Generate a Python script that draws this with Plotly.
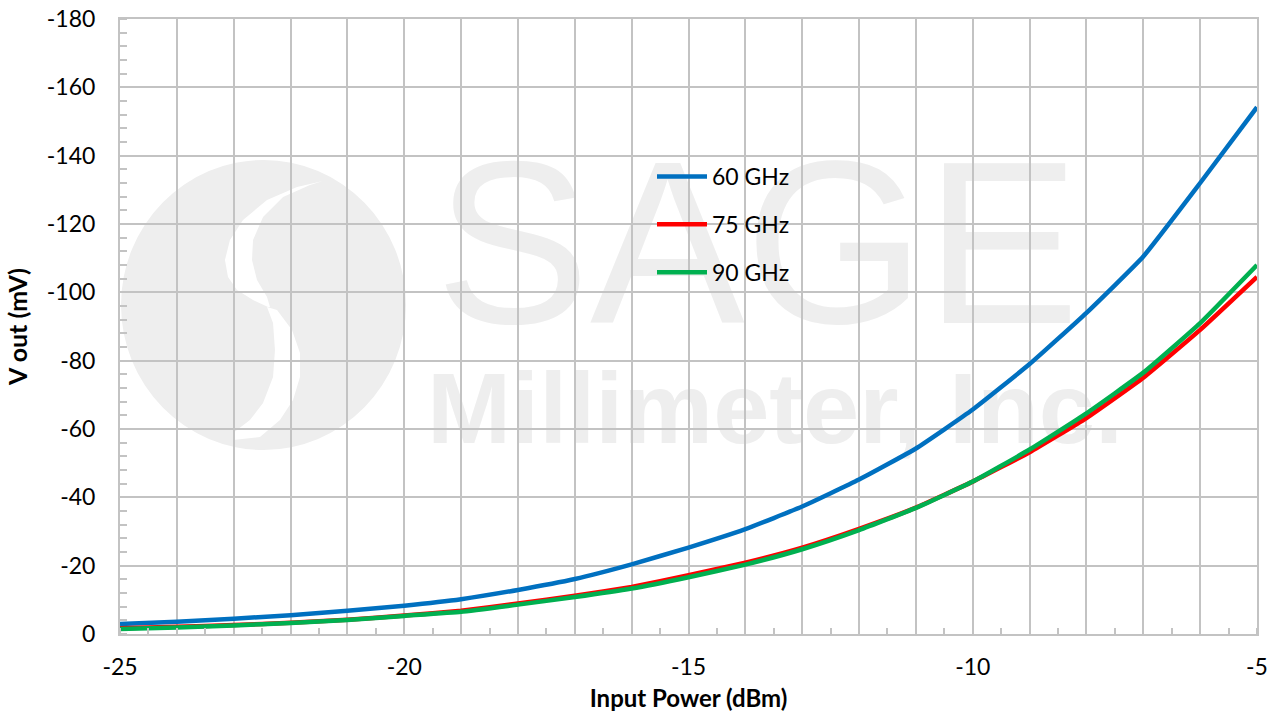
import plotly.graph_objects as go

# ---- data ----
input_power = [-25, -24, -23, -22, -21, -20, -19, -18, -17, -16, -15,
               -14, -13, -12, -11, -10, -9, -8, -7, -6, -5]
v60 = [-2.9, -3.6, -4.5, -5.5, -6.8, -8.3, -10.2, -12.9, -16.1, -20.4, -25.3,
       -30.7, -37.3, -45.2, -54.3, -65.7, -79.0, -94.0, -110.5, -132.0, -154.2]
v75 = [-1.7, -2.1, -2.6, -3.3, -4.2, -5.4, -6.8, -8.9, -11.2, -13.8, -17.2,
       -20.9, -25.3, -30.8, -37.0, -44.6, -53.2, -63.2, -75.0, -89.0, -104.5]
v90 = [-1.5, -1.9, -2.5, -3.2, -4.1, -5.3, -6.5, -8.6, -10.8, -13.3, -16.6,
       -20.3, -24.8, -30.4, -36.9, -44.6, -54.0, -64.6, -76.5, -91.0, -108.0]
series_names = ["60 GHz", "75 GHz", "90 GHz"]
series_colors = ["#0070C0", "#FF0000", "#00B050"]

x_tick_vals = list(range(-25, -4))
x_tick_text = [str(v) if v % 5 == 0 else "" for v in x_tick_vals]
y_tick_vals = [0, -20, -40, -60, -80, -100, -120, -140, -160, -180]
y_tick_text = ["0", "-20", "-40", "-60", "-80", "-100", "-120", "-140", "-160", "-180"]

W, H = 1278, 712
# plot area in window pixels
PL, PR, PT, PB = 120, 1257, 19, 634
ML, MR, MT, MB = PL, W - PR, PT, H - PB
PW, PH = PR - PL, PB - PT


def px(x):
    return (x - PL) / PW


def py(y):
    return (PB - y) / PH


def path(points):
    s = "M{:.4f},{:.4f}".format(px(points[0][0]), py(points[0][1]))
    for (a, b) in points[1:]:
        s += " L{:.4f},{:.4f}".format(px(a), py(b))
    return s + " Z"


fig = go.Figure()
for name, col, vals in zip(series_names, series_colors, [v60, v75, v90]):
    fig.add_trace(go.Scatter(x=input_power, y=vals, mode="lines", name=name,
                             legendgroup=name,
                             line=dict(color=col, width=4.5, shape="spline", smoothing=0.4)))

wm = "#eeeeee"
upper_outer = [(323, 181), (297, 187), (267, 200), (243, 220), (230, 240), (225, 260),
               (228, 277), (237, 290), (253, 300), (268, 307)]
upper_inner = [(270, 307), (267, 297), (257, 280), (252, 260), (253, 240), (263, 217),
               (283, 197), (310, 185)]
lower_left = [(267, 307), (273, 323), (275, 350), (273, 377), (263, 403), (250, 420),
              (233, 433), (233, 440)]
lower_right = [(260, 437), (280, 420), (293, 400), (300, 377), (300, 353), (292, 330),
               (277, 310)]

shapes = [
    dict(type="circle", xref="paper", yref="paper", layer="below",
         x0=px(121), x1=px(406), y0=py(160), y1=py(450),
         fillcolor=wm, line=dict(width=0)),
    dict(type="path", xref="paper", yref="paper", layer="below",
         path=path(upper_outer + upper_inner), fillcolor="white", line=dict(width=0)),
    dict(type="path", xref="paper", yref="paper", layer="below",
         path=path(lower_left + lower_right), fillcolor="white", line=dict(width=0)),
    dict(type="rect", xref="paper", yref="paper", layer="below",
         x0=px(430), x1=px(1085), y0=py(100), y1=py(340),
         fillcolor="rgba(0,0,0,0)", line=dict(width=0),
         label=dict(text="SAGE", textposition="middle center",
                    font=dict(family="Liberation Sans", size=232, color=wm))),
    dict(type="rect", xref="paper", yref="paper", layer="below",
         x0=px(425), x1=px(1125), y0=py(348), y1=py(448),
         fillcolor="rgba(0,0,0,0)", line=dict(width=0),
         label=dict(text="Millimeter, Inc.", textposition="middle center",
                    font=dict(family="Liberation Sans", size=101, color=wm, weight="bold"))),
]

grid = "#c3c3c3"
fig.update_layout(
    width=W, height=H,
    margin=dict(l=ML, r=MR, t=MT, b=MB, autoexpand=False),
    paper_bgcolor="white", plot_bgcolor="rgba(0,0,0,0)",
    font=dict(family="Lato", size=23, color="black"),
    shapes=shapes,
    showlegend=True,
    legend=dict(x=px(652), y=py(155), xanchor="left", yanchor="top",
                bgcolor="rgba(0,0,0,0)", font=dict(family="Lato", size=23),
                tracegroupgap=15, itemwidth=50),
    xaxis=dict(range=[-25, -5], tickvals=x_tick_vals, ticktext=x_tick_text,
               automargin=False, ticklabeloverflow="allow",
               showgrid=True, gridcolor=grid, gridwidth=2,
               showline=True, linecolor=grid, linewidth=2, mirror=True,
               ticks="", zeroline=False, ticklabelstandoff=11,
               minor=dict(dtick=0.5, ticks="inside", ticklen=6, tickcolor=grid,
                          tickwidth=2, showgrid=False),
               title=dict(text="<b>Input Power (dBm)</b>", font=dict(size=24), standoff=13)),
    yaxis=dict(range=[0, -180], tickvals=y_tick_vals, ticktext=y_tick_text,
               automargin=False, ticklabeloverflow="allow",
               showgrid=True, gridcolor=grid, gridwidth=2,
               showline=True, linecolor=grid, linewidth=2, mirror=True,
               ticks="", zeroline=False, ticklabelstandoff=18,
               minor=dict(dtick=4, ticks="inside", ticklen=7, tickcolor=grid,
                          tickwidth=2, showgrid=False),
               title=dict(text="<b>V out (mV)</b>", font=dict(size=25), standoff=12)),
)

fig.write_html("out.html", config={"displayModeBar": False},
               post_script="document.body.style.margin='0';document.body.style.overflow='hidden';")
